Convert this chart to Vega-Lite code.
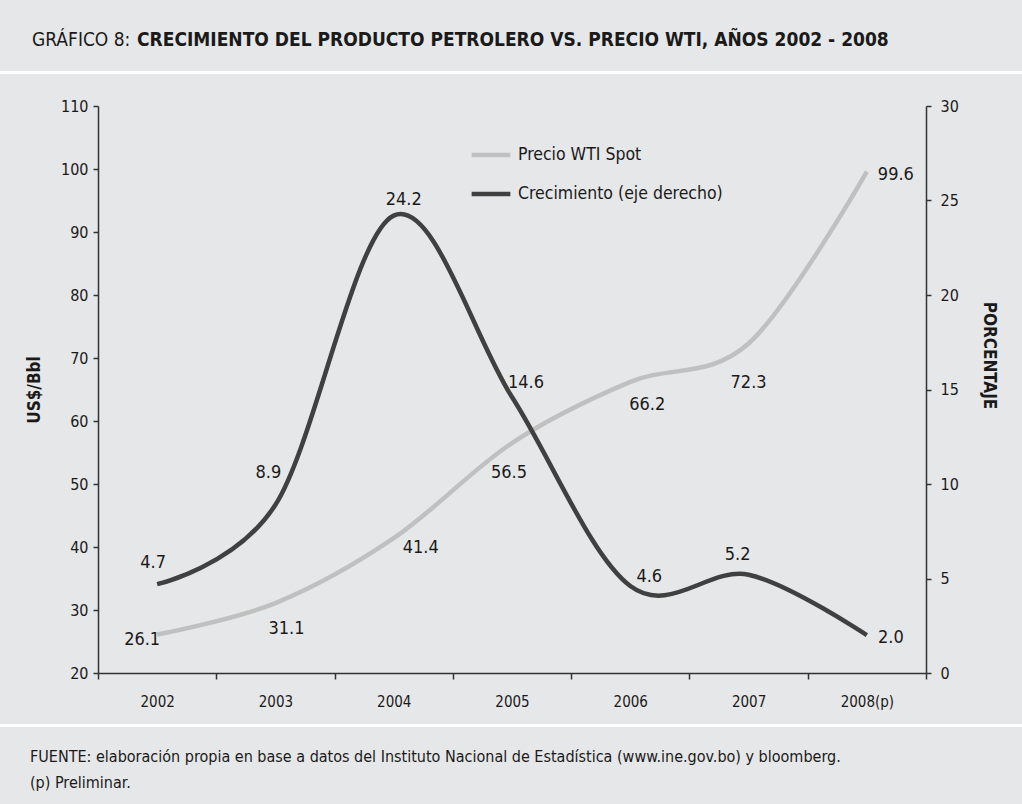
{
  "$schema": "https://vega.github.io/schema/vega-lite/v6.json",
  "background": "#e6e7e8",
  "padding": {"left": 0, "right": 0, "top": 31, "bottom": 16},
  "spacing": 15,
  "config": {
    "font": "DejaVu Sans Condensed",
    "view": {"stroke": null},
    "axis": {
      "labelFont": "DejaVu Sans Condensed",
      "labelFontSize": 16,
      "labelColor": "#1a1a1a",
      "titleFont": "DejaVu Sans Condensed",
      "titleFontSize": 17,
      "titleFontWeight": "bold",
      "titleColor": "#1a1a1a",
      "domainColor": "#333333",
      "tickColor": "#333333",
      "domainWidth": 1.5,
      "tickWidth": 1.5,
      "tickSize": 5,
      "grid": false
    },
    "legend": {
      "labelFont": "DejaVu Sans Condensed",
      "labelFontSize": 17.5,
      "labelColor": "#1a1a1a",
      "labelLimit": 0
    },
    "text": {"font": "DejaVu Sans Condensed", "fontSize": 18, "color": "#1a1a1a"}
  },
  "title": {
    "text": "GRÁFICO 8:",
    "anchor": "start",
    "dx": 32,
    "offset": -19,
    "fontSize": 19,
    "fontWeight": "normal",
    "font": "DejaVu Sans Condensed",
    "color": "#1a1a1a"
  },
  "vconcat": [
    {
      "width": 1022,
      "height": 3,
      "view": {"fill": "#ffffff", "stroke": null},
      "title": {
        "text": "CRECIMIENTO DEL PRODUCTO PETROLERO VS. PRECIO WTI, AÑOS 2002 - 2008",
        "anchor": "start",
        "dx": 137,
        "offset": 21,
        "fontSize": 19,
        "fontWeight": "bold",
        "font": "DejaVu Sans Condensed",
        "color": "#1a1a1a"
      },
      "data": {"values": []},
      "mark": "rule",
      "encoding": {}
    },
    {
      "spacing": 0,
      "hconcat": [
        {
          "width": 25,
          "height": 1,
          "data": {"values": []},
          "mark": "rule",
          "encoding": {}
        },
        {
          "width": 828,
          "height": 567,
          "title": {"text": " ", "fontSize": 9, "offset": 0},
          "data": {
            "values": [
              {"year": "2002", "wti": 26.1, "crec": 4.7},
              {"year": "2003", "wti": 31.1, "crec": 8.9},
              {"year": "2004", "wti": 41.4, "crec": 24.2},
              {"year": "2005", "wti": 56.5, "crec": 14.6},
              {"year": "2006", "wti": 66.2, "crec": 4.6},
              {"year": "2007", "wti": 72.3, "crec": 5.2},
              {"year": "2008(p)", "wti": 99.6, "crec": 2.0}
            ]
          },
          "encoding": {
            "x": {
              "field": "year",
              "type": "ordinal",
              "sort": null,
              "bandPosition": 0.5,
              "scale": {"type": "band", "paddingInner": 0, "paddingOuter": 0},
              "axis": {
                "title": null,
                "labelAngle": 0,
                "tickBand": "extent",
                "tickSize": 6,
                "labelPadding": 15,
                "labelFontSize": 15
              }
            }
          },
          "layer": [
            {
              "encoding": {
                "y": {
                  "field": "wti",
                  "type": "quantitative",
                  "scale": {"domain": [20, 110], "nice": false, "zero": false},
                  "axis": {
                    "orient": "left",
                    "values": [20, 30, 40, 50, 60, 70, 80, 90, 100, 110],
                    "title": "US$/Bbl",
                    "labelPadding": 5,
                    "titlePadding": 17
                  }
                }
              },
              "layer": [
                {
                  "mark": {"type": "line", "interpolate": "cardinal", "strokeWidth": 4.5},
                  "encoding": {
                    "color": {
                      "datum": "Precio WTI Spot",
                      "type": "nominal",
                      "scale": {
                        "domain": ["Precio WTI Spot", "Crecimiento (eje derecho)"],
                        "range": ["#c0c0c0", "#404040"]
                      },
                      "legend": {
                        "title": null,
                        "orient": "none",
                        "legendX": 469,
                        "legendY": 62,
                        "symbolType": "stroke",
                        "symbolSize": 1500,
                        "symbolStrokeWidth": 4.5,
                        "labelOffset": 5,
                        "rowPadding": 8,
                        "padding": 0
                      }
                    }
                  }
                },
                {"transform": [{"filter": "datum.year == '2002'"}], "mark": {"type": "text", "dx": -15, "dy": 5}, "encoding": {"text": {"field": "wti", "format": ".1f"}}},
                {"transform": [{"filter": "datum.year == '2003'"}], "mark": {"type": "text", "dx": 11, "dy": 26}, "encoding": {"text": {"field": "wti", "format": ".1f"}}},
                {"transform": [{"filter": "datum.year == '2004'"}], "mark": {"type": "text", "dx": 27, "dy": 10}, "encoding": {"text": {"field": "wti", "format": ".1f"}}},
                {"transform": [{"filter": "datum.year == '2005'"}], "mark": {"type": "text", "dx": -3, "dy": 30}, "encoding": {"text": {"field": "wti", "format": ".1f"}}},
                {"transform": [{"filter": "datum.year == '2006'"}], "mark": {"type": "text", "dx": 17, "dy": 23}, "encoding": {"text": {"field": "wti", "format": ".1f"}}},
                {"transform": [{"filter": "datum.year == '2007'"}], "mark": {"type": "text", "dx": 0, "dy": 39}, "encoding": {"text": {"field": "wti", "format": ".1f"}}},
                {"transform": [{"filter": "datum.year == '2008(p)'"}], "mark": {"type": "text", "dx": 29, "dy": 3}, "encoding": {"text": {"field": "wti", "format": ".1f"}}}
              ]
            },
            {
              "encoding": {
                "y": {
                  "field": "crec",
                  "type": "quantitative",
                  "scale": {"domain": [0, 30], "nice": false},
                  "axis": {
                    "orient": "right",
                    "values": [0, 5, 10, 15, 20, 25, 30],
                    "title": "PORCENTAJE",
                    "labelPadding": 9,
                    "titlePadding": 21,
                    "titleY": 249
                  }
                }
              },
              "layer": [
                {
                  "mark": {"type": "line", "interpolate": "cardinal", "strokeWidth": 4.5},
                  "encoding": {"color": {"datum": "Crecimiento (eje derecho)", "type": "nominal"}}
                },
                {"transform": [{"filter": "datum.year == '2002'"}], "mark": {"type": "text", "dx": -4, "dy": -21}, "encoding": {"text": {"field": "crec", "format": ".1f"}}},
                {"transform": [{"filter": "datum.year == '2003'"}], "mark": {"type": "text", "dx": -7, "dy": -32}, "encoding": {"text": {"field": "crec", "format": ".1f"}}},
                {"transform": [{"filter": "datum.year == '2004'"}], "mark": {"type": "text", "dx": 10, "dy": -16}, "encoding": {"text": {"field": "crec", "format": ".1f"}}},
                {"transform": [{"filter": "datum.year == '2005'"}], "mark": {"type": "text", "dx": 14, "dy": -14}, "encoding": {"text": {"field": "crec", "format": ".1f"}}},
                {"transform": [{"filter": "datum.year == '2006'"}], "mark": {"type": "text", "dx": 19, "dy": -9}, "encoding": {"text": {"field": "crec", "format": ".1f"}}},
                {"transform": [{"filter": "datum.year == '2007'"}], "mark": {"type": "text", "dx": -11, "dy": -20}, "encoding": {"text": {"field": "crec", "format": ".1f"}}},
                {"transform": [{"filter": "datum.year == '2008(p)'"}], "mark": {"type": "text", "dx": 24, "dy": 3}, "encoding": {"text": {"field": "crec", "format": ".1f"}}}
              ]
            }
          ],
          "resolve": {"scale": {"y": "independent"}}
        }
      ]
    },
    {
      "width": 1022,
      "height": 3,
      "view": {"fill": "#ffffff", "stroke": null},
      "title": {
        "text": ["FUENTE: elaboración propia en base a datos del Instituto Nacional de Estadística (www.ine.gov.bo) y bloomberg.", "(p) Preliminar."],
        "orient": "bottom",
        "anchor": "start",
        "dx": 30,
        "offset": 22,
        "fontSize": 16,
        "lineHeight": 26,
        "fontWeight": "normal",
        "font": "DejaVu Sans Condensed",
        "color": "#1a1a1a"
      },
      "data": {"values": []},
      "mark": "rule",
      "encoding": {}
    }
  ]
}
